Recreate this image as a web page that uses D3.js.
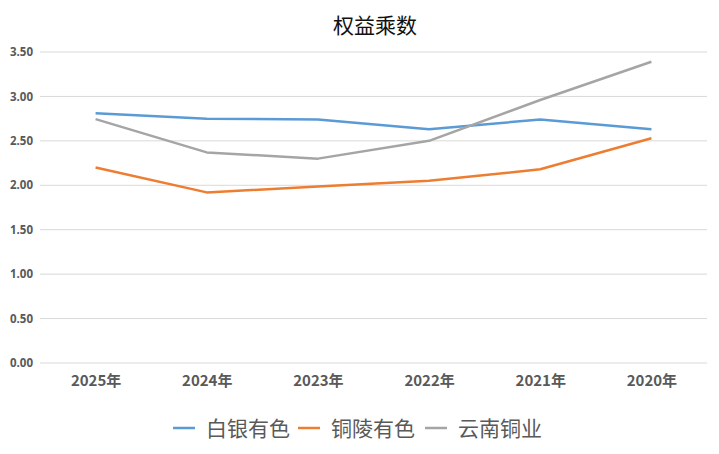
<!DOCTYPE html>
<html>
<head>
<meta charset="utf-8">
<script src="https://cdn.jsdelivr.net/npm/d3@7"></script>
<style>
  html, body { margin: 0; padding: 0; background: #fff; }
  svg { display: block; }
</style>
</head>
<body>
<svg id="chart" width="719" height="454"></svg>
<script>
const categories = ["2025年", "2024年", "2023年", "2022年", "2021年", "2020年"];
const seriesNames = ["白银有色", "铜陵有色", "云南铜业"];
const baiyin = [2.81, 2.75, 2.74, 2.63, 2.74, 2.63];
const tongling = [2.20, 1.92, 1.985, 2.05, 2.18, 2.53];
const yunnan = [2.745, 2.37, 2.30, 2.50, 2.96, 3.39];
const yTicks = [0, 0.5, 1.0, 1.5, 2.0, 2.5, 3.0, 3.5];
const colors = ["#5B9BD5", "#ED7D31", "#A5A5A5"];

const series = [baiyin, tongling, yunnan];
const svg = d3.select("#chart");
const cjk = "'Noto Sans CJK SC', 'Noto Sans', sans-serif";

const plotL = 40, plotR = 707, plotT = 52, plotB = 363;
const x = d3.scalePoint().domain(categories).range([plotL, plotR]).padding(0.5);
const y = d3.scaleLinear().domain([0, 3.5]).range([plotB, plotT]);

// gridlines
svg.append("g").selectAll("line").data(yTicks).join("line")
  .attr("x1", plotL).attr("x2", plotR)
  .attr("y1", d => y(d)).attr("y2", d => y(d))
  .attr("stroke", "#D9D9D9").attr("stroke-width", 1);

// y axis labels
const yAxis = d3.axisLeft(y).tickValues(yTicks).tickFormat(d3.format(".2f")).tickSize(0).tickPadding(0);
const yg = svg.append("g").attr("transform", `translate(33,0)`).call(yAxis);
yg.select(".domain").remove();
yg.selectAll("text").attr("fill", "#595959").attr("font-family", "'Open Sans', 'Liberation Sans', sans-serif")
  .attr("font-size", 11.5).attr("font-weight", "bold");

// x axis labels
const xAxis = d3.axisBottom(x).tickSize(0).tickPadding(0);
const xg = svg.append("g").attr("transform", `translate(0,375)`).call(xAxis);
xg.select(".domain").remove();
xg.selectAll("text").attr("fill", "#595959").attr("font-family", cjk)
  .attr("font-size", 15).attr("font-weight", "bold");

// lines
const line = d3.line().x((d, i) => x(categories[i])).y(d => y(d));
svg.append("g").selectAll("path").data(series).join("path")
  .attr("d", d => line(d))
  .attr("fill", "none")
  .attr("stroke", (d, i) => colors[i])
  .attr("stroke-width", 2.5)
  .attr("stroke-linejoin", "round");

// title
svg.append("text").attr("x", 375).attr("y", 33).attr("text-anchor", "middle")
  .attr("font-family", cjk).attr("font-size", 21).attr("fill", "#111")
  .text("权益乘数");

// legend
const legendX = [173, 298, 425];
const lg = svg.append("g").selectAll("g").data(seriesNames).join("g")
  .attr("transform", (d, i) => `translate(${legendX[i]},428)`);
lg.append("line").attr("x1", 0).attr("x2", 22).attr("y1", 0).attr("y2", 0)
  .attr("stroke", (d, i) => colors[i]).attr("stroke-width", 2.5);
lg.append("text").attr("x", 33).attr("y", 0).attr("dy", "0.36em")
  .attr("font-family", cjk).attr("font-size", 21).attr("fill", "#595959")
  .text(d => d);
</script>
</body>
</html>
